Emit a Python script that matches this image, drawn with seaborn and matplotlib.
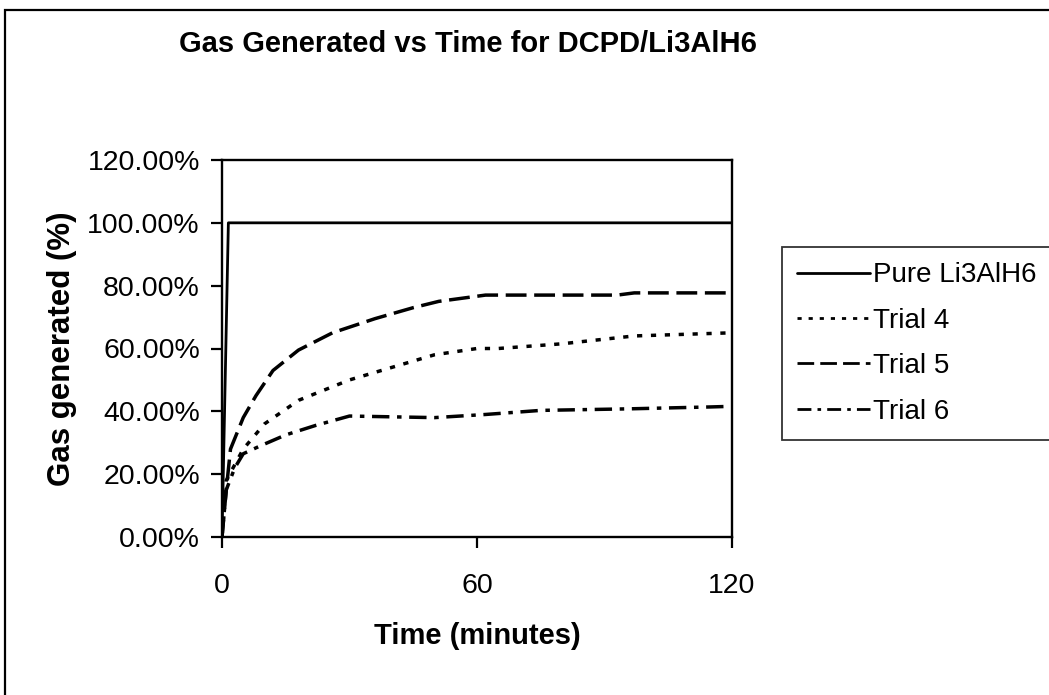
import matplotlib
matplotlib.use("Agg")
import matplotlib.pyplot as plt
from matplotlib.ticker import PercentFormatter
from matplotlib.patches import Rectangle
import seaborn as sns

# ---- data (time in minutes, gas generated as fraction) ----
pure_t = [0, 1.5, 120]
pure_v = [0.0, 1.00, 1.00]

trial4_t = [0, 1, 5, 10, 18, 30, 40, 50, 60, 65, 80, 97, 120]
trial4_v = [0.0, 0.18, 0.28, 0.36, 0.435, 0.50, 0.54, 0.58, 0.60, 0.60, 0.615, 0.64, 0.65]

trial5_t = [0, 1, 2, 5, 8, 12, 18, 26, 36, 45, 51, 62, 93, 97, 120]
trial5_v = [0.0, 0.15, 0.28, 0.38, 0.45, 0.53, 0.595, 0.65, 0.695, 0.73, 0.75, 0.77, 0.77, 0.777, 0.777]

trial6_t = [0, 1, 3, 5, 9, 15, 22, 30, 50, 62, 75, 96, 115, 120]
trial6_v = [0.0, 0.15, 0.22, 0.265, 0.29, 0.325, 0.355, 0.385, 0.38, 0.39, 0.403, 0.408, 0.414, 0.416]

series_labels = ["Pure Li3AlH6", "Trial 4", "Trial 5", "Trial 6"]
x_ticks = [0, 60, 120]
y_ticks = [0.0, 0.2, 0.4, 0.6, 0.8, 1.0, 1.2]

title = "Gas Generated vs Time for DCPD/Li3AlH6"
x_label = "Time (minutes)"
y_label = "Gas generated (%)"

# ---- styling ----
sns.set_theme(style="white")
plt.rcParams["font.family"] = ["Liberation Sans", "DejaVu Sans"]

W, H = 1049, 695
fig = plt.figure(figsize=(W / 100, H / 100), dpi=100)
ax = fig.add_axes([222 / W, 1 - 537 / H, (732 - 222) / W, (537 - 160) / H])

styles = [
    dict(linestyle="-", linewidth=2.0),
    dict(linestyle=(0, (1.5, 2.5)), linewidth=2.5),
    dict(linestyle=(0, (6, 2.2)), linewidth=2.5),
    dict(linestyle=(0, (5, 2.2, 1.3, 2.2)), linewidth=2.5),
]
data = [(pure_t, pure_v), (trial4_t, trial4_v), (trial5_t, trial5_v), (trial6_t, trial6_v)]
for (t, v), lab, st in zip(data, series_labels, styles):
    sns.lineplot(x=t, y=v, ax=ax, color="black", label=lab, sort=False,
                 estimator=None, **st)

ax.set_xlim(0, 120)
ax.set_ylim(0, 1.2)
ax.set_xticks(x_ticks)
ax.set_yticks(y_ticks)
ax.yaxis.set_major_formatter(PercentFormatter(1.0, decimals=2))
ax.tick_params(axis="both", direction="out", length=8, width=1.6, color="black",
               labelsize=20.5, labelcolor="black")
ax.tick_params(axis="x", pad=18, bottom=True)
ax.tick_params(axis="y", pad=8, left=True)
for sp in ax.spines.values():
    sp.set_visible(True)
    sp.set_color("black")
    sp.set_linewidth(1.7)
ax.grid(False)
ax.set_facecolor("white")

ax.set_xlabel(x_label, fontsize=21, fontweight="bold", color="black")
ax.set_ylabel(y_label, fontsize=22.5, fontweight="bold", color="black")
ax.xaxis.set_label_coords(0.5, -0.225)
ax.yaxis.set_label_coords(-0.284, 0.5)

fig.text(468 / W, 1 - 44 / H, title, ha="center", va="center",
         fontsize=21, fontweight="bold", color="black")

leg = ax.legend(loc="upper left", bbox_to_anchor=(782 / W, 1 - 247 / H),
                bbox_transform=fig.transFigure, frameon=True, fancybox=False,
                fontsize=20, handlelength=2.6, handletextpad=0.12,
                labelspacing=0.7, borderpad=0.55, borderaxespad=0)
leg.get_frame().set_edgecolor("black")
leg.get_frame().set_linewidth(1.3)
for txt in leg.get_texts():
    txt.set_color("black")
for ln in leg.get_lines():
    ln.set_linewidth(2.0)

# outer chart border (left and top edges visible)
fig.patches.append(Rectangle((5 / W, -0.05), 1.1, 1.05 - 10 / H,
                             transform=fig.transFigure, fill=False,
                             edgecolor="black", linewidth=1.6))

fig.savefig("out.png", dpi=100, facecolor="white")
